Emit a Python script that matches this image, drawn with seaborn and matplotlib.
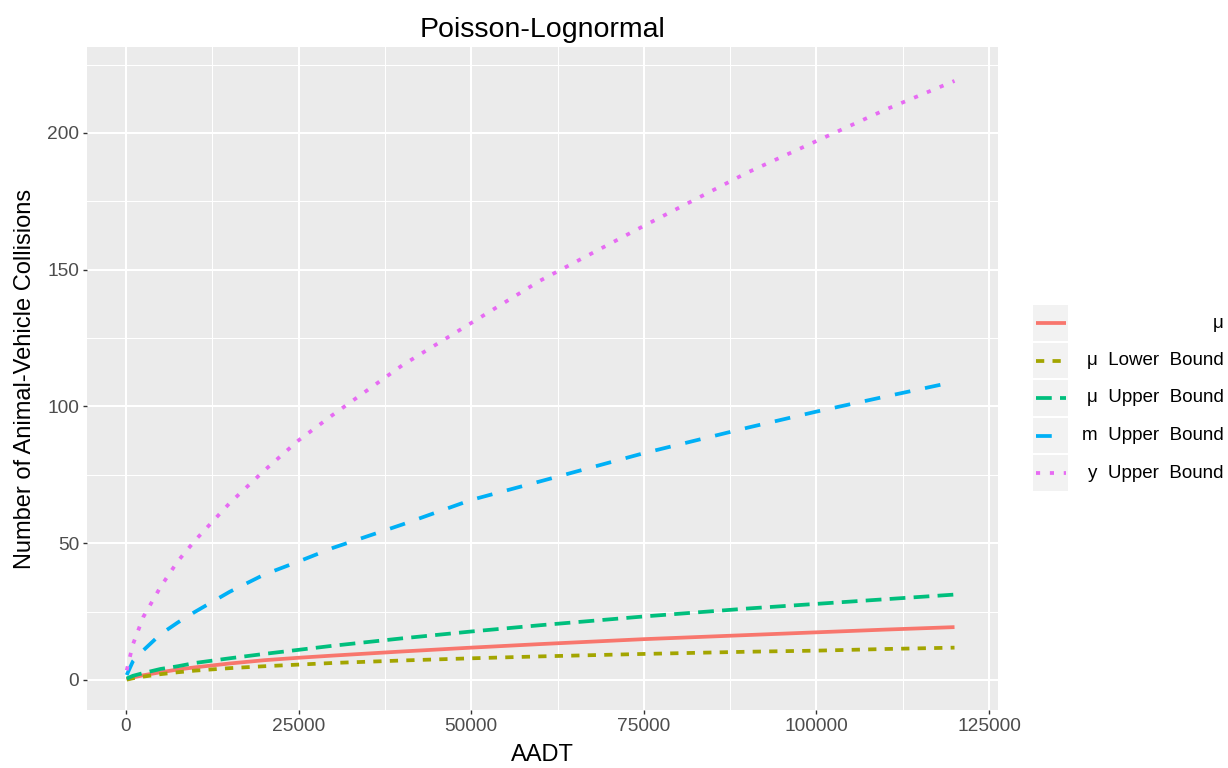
import matplotlib
matplotlib.use("Agg")
import matplotlib.pyplot as plt
import seaborn as sns
import pandas as pd
from matplotlib.lines import Line2D
from matplotlib.patches import Rectangle
from matplotlib.ticker import MultipleLocator

# values
aadt = [100, 1000, 2500, 5000, 7500, 10000, 15000, 20000, 25000, 30000,
        40000, 50000, 60000, 75000, 90000, 100000, 110000, 120000]
mu = [0.2, 0.9, 1.7, 2.8, 3.8, 4.6, 6.0, 7.2, 8.1, 8.9,
      10.4, 11.8, 13.1, 14.9, 16.4, 17.4, 18.4, 19.3]
mu_lower = [0.1, 0.6, 1.2, 2.1, 2.8, 3.4, 4.3, 5.0, 5.6, 6.2,
            7.1, 7.9, 8.6, 9.5, 10.3, 10.7, 11.3, 11.8]
mu_upper = [0.5, 1.5, 2.5, 4.0, 5.0, 6.2, 7.9, 9.5, 11.0, 12.5,
            15.2, 17.7, 20.0, 23.2, 26.1, 27.8, 29.5, 31.2]
m_upper = [1.8, 6.8, 10.8, 16.7, 21.0, 24.9, 32.2, 38.5, 43.3, 48.3,
           56.8, 65.8, 72.6, 82.9, 92.2, 98.1, 103.6, 109.0]
y_upper = [3.5, 13.0, 23.0, 34.0, 43.4, 51.0, 64.6, 76.5, 87.6, 97.0,
           115.0, 130.5, 146.0, 166.0, 185.5, 197.0, 208.5, 219.0]

labels = ["μ", "μ  Lower  Bound", "μ  Upper  Bound",
          "m  Upper  Bound", "y  Upper  Bound"]
colors = ["#F8766D", "#A3A500", "#00BF7D", "#00B0F6", "#E76BF3"]
dash_styles = ["", (2.2, 2.2), (4.2, 2.2), (4.2, 4.0), (1.1, 2.6)]

series = [mu, mu_lower, mu_upper, m_upper, y_upper]
df = pd.concat(
    [pd.DataFrame({"AADT": aadt, "value": vals, "series": lab})
     for lab, vals in zip(labels, series)],
    ignore_index=True,
)

plt.rcParams["font.family"] = ["Liberation Sans", "DejaVu Sans"]

W, H = 1228, 768
fig = plt.figure(figsize=(W / 100, H / 100), dpi=100)
ax = fig.add_axes([87 / W, 1 - 710 / H, (998 - 87) / W, (710 - 47) / H])

lw = 2.7
sns.lineplot(
    data=df, x="AADT", y="value", hue="series", style="series",
    palette=dict(zip(labels, colors)), dashes=dict(zip(labels, dash_styles)),
    hue_order=labels, style_order=labels, linewidth=lw, legend=False,
    sort=False, ax=ax, dash_capstyle="butt", solid_capstyle="butt",
)

ax.set_facecolor("#EBEBEB")
for s in ax.spines.values():
    s.set_visible(False)
ax.set_xlim(-5650, 126300)
ax.set_ylim(-11, 231.4)
ax.xaxis.set_major_locator(MultipleLocator(25000))
ax.xaxis.set_minor_locator(MultipleLocator(12500))
ax.yaxis.set_major_locator(MultipleLocator(50))
ax.yaxis.set_minor_locator(MultipleLocator(25))
ax.grid(which="major", color="white", linewidth=1.5)
ax.grid(which="minor", color="white", linewidth=0.75)
ax.set_axisbelow(True)
ax.tick_params(which="major", length=3, width=1, color="#333333",
               labelsize=13.8, labelcolor="#4D4D4D", pad=2.5)
ax.tick_params(which="minor", length=0)

ax.set_xlabel("AADT", fontsize=17)
ax.set_ylabel("Number of Animal-Vehicle Collisions", fontsize=17)
ax.xaxis.set_label_coords(0.5, -0.052)
ax.yaxis.set_label_coords(-0.056, 0.5)
ax.set_title("Poisson-Lognormal", fontsize=20.5, pad=7)

# ggplot-style legend on the right, labels right-aligned
def fx(px):
    return px / W

def fy(py):
    return 1 - py / H

row_top = 305
row_h = 37.5
for i, (lab, col, dsh) in enumerate(zip(labels, colors, dash_styles)):
    top = row_top + i * row_h
    fig.add_artist(Rectangle((fx(1033), fy(top + 35.5)), fx(35), 35.5 / H,
                             transform=fig.transFigure, facecolor="#F2F2F2",
                             edgecolor="none"))
    yc = fy(top + 18)
    line = Line2D([fx(1036), fx(1066)], [yc, yc], transform=fig.transFigure,
                  color=col, linewidth=lw, solid_capstyle="butt",
                  dash_capstyle="butt")
    if dsh:
        line.set_dashes(dsh)
    fig.add_artist(line)
    fig.text(fx(1224), yc, lab, ha="right", va="center", fontsize=13.5)

fig.savefig("out.png", dpi=100)
